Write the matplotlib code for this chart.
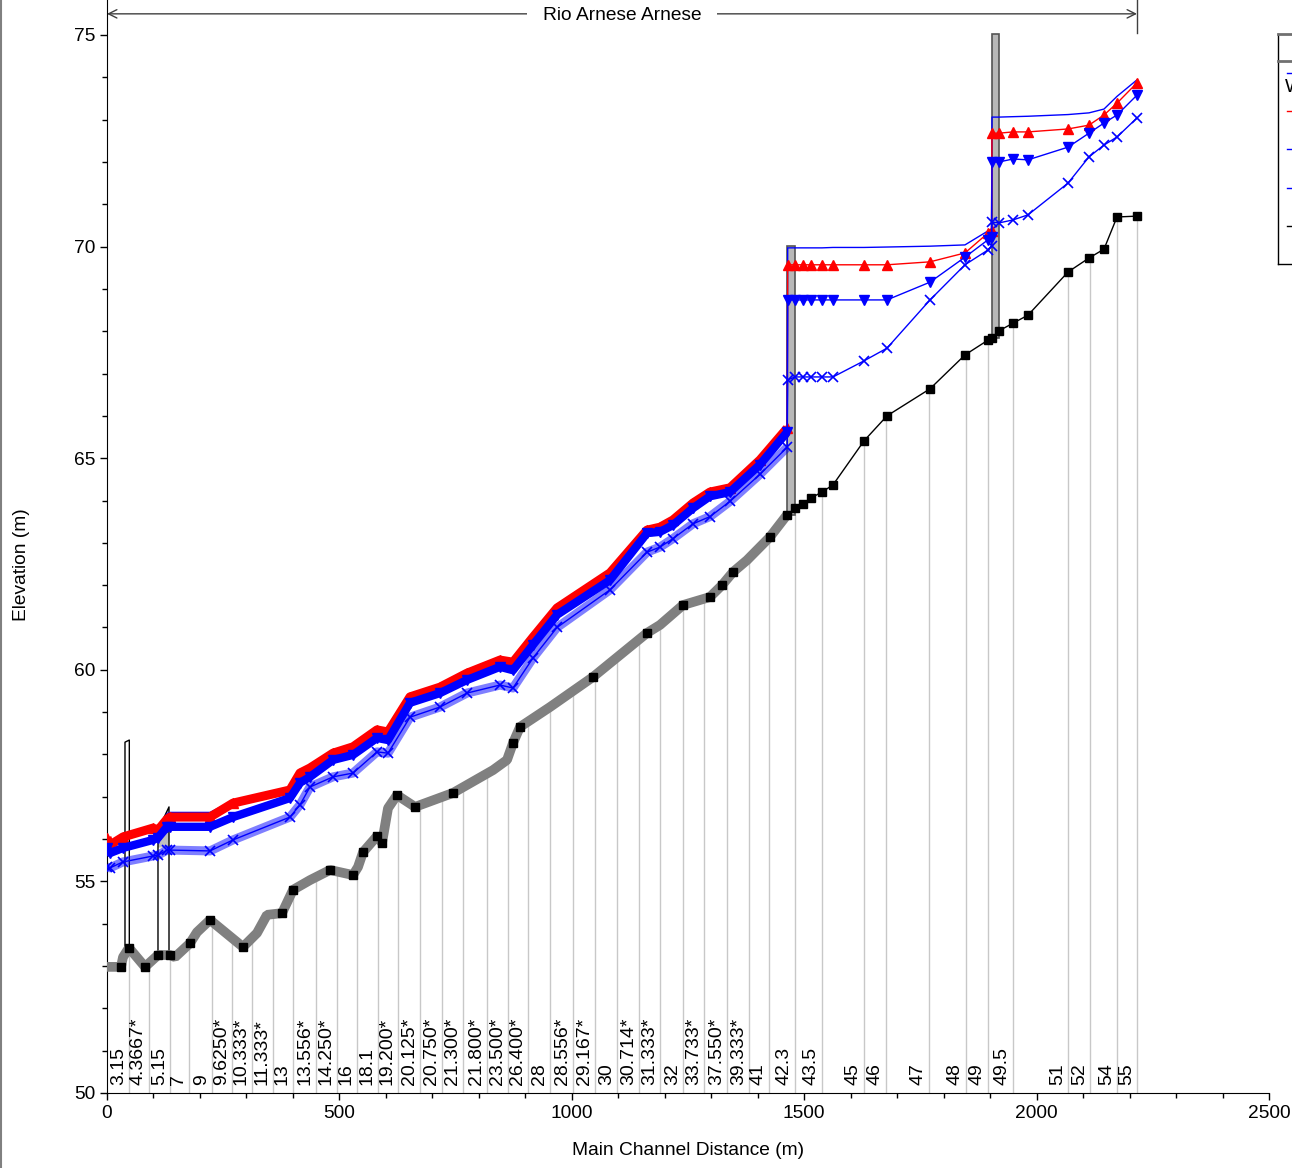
import numpy as np
import matplotlib
matplotlib.use("Agg")
import matplotlib.pyplot as plt
from matplotlib.ticker import MultipleLocator
from matplotlib.patches import Rectangle, Polygon
from matplotlib.lines import Line2D

plt.rcParams['font.family'] = ['Liberation Sans', 'DejaVu Sans']
plt.rcParams['font.size'] = 13.8

# ground profile (main channel distance m, elevation m)
ground_dist = [0, 30.1, 34.4, 47.3, 81.8, 109.7, 135.5, 146.3, 178.6, 193.6, 221.6, 292.6, 322.7, 344.2,
               376.5, 400.2, 436.7, 479.8, 529.3, 540.0, 550.8, 580.9, 591.7, 604.6, 623.9, 662.7, 744.4,
               830.5, 860.6, 873.5, 888.6, 953.1, 1045.6, 1161.8, 1189.8, 1239.2, 1297.3, 1323.2, 1346.8,
               1376.9, 1426.4, 1463.0, 1480.2, 1497.4, 1514.6, 1538.3, 1562.0, 1628.7, 1678.1, 1770.7,
               1845.9, 1895.4, 1904.0, 1919.1, 1949.2, 1981.5, 2067.6, 2112.7, 2145.0, 2173.0, 2216.0]
ground_elev = [52.98, 52.98, 53.21, 53.43, 52.98, 53.26, 53.26, 53.21, 53.54, 53.80, 54.09, 53.45, 53.78, 54.21,
               54.25, 54.80, 55.03, 55.27, 55.15, 55.34, 55.69, 56.07, 55.91, 56.73, 57.04, 56.76, 57.09,
               57.63, 57.87, 58.27, 58.65, 59.12, 59.83, 60.87, 61.06, 61.53, 61.72, 62.00, 62.31,
               62.59, 63.14, 63.66, 63.82, 63.92, 64.06, 64.20, 64.37, 65.41, 66.00, 66.64,
               67.44, 67.79, 67.84, 68.01, 68.19, 68.38, 69.40, 69.73, 69.94, 70.70, 70.72]

# surveyed cross sections (black squares)
xs_dist = [30.1, 47.3, 81.8, 109.7, 135.5, 178.6, 221.6, 292.6, 376.5, 400.2, 479.8, 529.3, 550.8, 580.9,
           591.7, 623.9, 662.7, 744.4, 873.5, 888.6, 1045.6, 1161.8, 1239.2, 1297.3, 1323.2, 1346.8, 1426.4,
           1463.0, 1480.2, 1497.4, 1514.6, 1538.3, 1562.0, 1628.7, 1678.1, 1770.7, 1845.9, 1895.4, 1904.0,
           1919.1, 1949.2, 1981.5, 2067.6, 2112.7, 2145.0, 2173.0, 2216.0]
xs_elev = [52.98, 53.43, 52.98, 53.26, 53.26, 53.54, 54.09, 53.45, 54.25, 54.80, 55.27, 55.15, 55.69, 56.07,
           55.91, 57.04, 56.76, 57.09, 58.27, 58.65, 59.83, 60.87, 61.53, 61.72, 62.00, 62.31, 63.14,
           63.66, 63.82, 63.92, 64.06, 64.20, 64.37, 65.41, 66.00, 66.64, 67.44, 67.79, 67.84,
           68.01, 68.19, 68.38, 69.40, 69.73, 69.94, 70.70, 70.72]

# river station labels
station_labels = ['3.15', '4.3667*', '5.15', '7', '9', '9.6250*', '10.333*', '11.333*', '13', '13.556*',
                  '14.250*', '16', '18.1', '19.200*', '20.125*', '20.750*', '21.300*', '21.800*', '23.500*',
                  '26.400*', '28', '28.556*', '29.167*', '30', '30.714*', '31.333*', '32', '33.733*',
                  '37.550*', '39.333*', '41', '42.3', '43.5', '45', '46', '47', '48', '49', '49.5',
                  '51', '52', '54', '55']
station_dist = [47.3, 90.4, 135.5, 176.4, 225.9, 268.9, 312.0, 357.1, 400.2, 449.7, 494.8, 537.9, 583.0,
                626.1, 673.4, 720.7, 765.9, 817.6, 862.7, 905.8, 953.1, 1002.6, 1049.9, 1097.2, 1144.6,
                1189.8, 1239.2, 1284.4, 1333.9, 1381.2, 1424.3, 1480.2, 1538.3, 1628.7, 1676.0, 1768.5,
                1848.1, 1895.4, 1949.2, 2067.6, 2114.9, 2173.0, 2216.0]

# water profiles
ws_dist = [0, 6.5, 34.4, 99.0, 109.7, 129.1, 135.5, 221.6, 271.1, 393.7, 415.2, 436.7, 486.2, 529.3,
           580.9, 604.6, 651.9, 716.4, 774.5, 845.5, 873.5, 916.5, 968.2, 1082.2, 1161.8, 1189.8,
           1217.7, 1260.8, 1297.3, 1340.4, 1404.9, 1463.5, 1464.5, 1480.2, 1497.4, 1514.6, 1538.3,
           1562.0, 1628.7, 1678.1, 1770.7, 1845.9, 1895.4, 1903.0, 1904.0, 1919.1, 1949.2, 1981.5,
           2067.6, 2112.7, 2145.0, 2173.0, 2216.0]
eg_elev = [56.08, 55.92, 56.10, 56.31, 56.27, 56.60, 56.63, 56.63, 56.91, 57.21, 57.61, 57.73, 58.08, 58.23,
           58.63, 58.58, 59.41, 59.64, 59.97, 60.28, 60.23, 60.82, 61.51, 62.34, 63.35, 63.42,
           63.59, 63.99, 64.25, 64.35, 65.01, 65.76, 69.97, 69.97, 69.97, 69.97, 69.97,
           69.98, 69.98, 69.99, 70.01, 70.04, 70.37, 70.42, 73.06, 73.06, 73.07, 73.08,
           73.12, 73.16, 73.25, 73.55, 73.94]
ws_red = [56.03, 55.86, 56.05, 56.26, 56.21, 56.47, 56.52, 56.52, 56.85, 57.16, 57.56, 57.68, 58.03, 58.18,
          58.58, 58.53, 59.36, 59.59, 59.92, 60.23, 60.18, 60.77, 61.46, 62.29, 63.30, 63.37,
          63.54, 63.94, 64.20, 64.30, 64.96, 65.71, 69.57, 69.57, 69.57, 69.57, 69.57,
          69.57, 69.57, 69.57, 69.64, 69.85, 70.32, 70.36, 72.68, 72.68, 72.71, 72.71,
          72.78, 72.87, 73.11, 73.39, 73.87]
ws_down = [55.79, 55.67, 55.79, 55.98, 56.03, 56.29, 56.29, 56.29, 56.52, 56.97, 57.33, 57.47, 57.87, 57.99,
           58.39, 58.34, 59.22, 59.45, 59.76, 60.07, 59.99, 60.59, 61.30, 62.12, 63.23, 63.26,
           63.42, 63.82, 64.10, 64.20, 64.85, 65.62, 68.74, 68.74, 68.74, 68.74, 68.74,
           68.74, 68.74, 68.74, 69.16, 69.75, 70.16, 70.22, 72.00, 72.00, 72.07, 72.05,
           72.35, 72.68, 72.92, 73.11, 73.58]
ws_x = [55.34, 55.32, 55.46, 55.60, 55.62, 55.74, 55.74, 55.72, 55.98, 56.52, 56.81, 57.23, 57.47, 57.56,
        58.06, 58.03, 58.88, 59.12, 59.45, 59.64, 59.57, 60.28, 61.00, 61.89, 62.78, 62.90,
        63.10, 63.45, 63.62, 63.98, 64.62, 65.26, 66.85, 66.92, 66.92, 66.92, 66.92,
        66.92, 67.30, 67.60, 68.74, 69.57, 69.92, 70.02, 70.58, 70.56, 70.63, 70.75,
        71.50, 72.12, 72.40, 72.59, 73.04]

# bridges (left dist, right dist, bottom, top)
bridges = [(1463.0, 1480.2, 63.66, 70.01), (1904.0, 1919.1, 67.84, 75.02)]
pier_x = [38.7, 48.0]
pier_top = [58.29, 58.34]
pier_bot = [53.2, 53.43]
weir_x = [109.7, 133.4]
weir_top = [56.21, 56.76]
weir_low = [55.8, 55.8]

reach_name = 'Rio Arnese Arnese'
legend_colors = ['#0000ff', '#ff0000', '#0000ff', '#0000ff', 'black']

fig = plt.figure(figsize=(12.92, 11.68), dpi=100)
ax = fig.add_axes([107 / 1292, 75 / 1168, (1269 - 107) / 1292, 1093 / 1168])
ax.set_xlim(0, 2500)
ax.set_ylim(50, 50 + 1093 / 42.32)
for s in ['top', 'right']:
    ax.spines[s].set_visible(False)
ax.set_xticks(np.arange(0, 2501, 500))
ax.set_yticks(np.arange(50, 76, 5))
ax.xaxis.set_minor_locator(MultipleLocator(100))
ax.yaxis.set_minor_locator(MultipleLocator(1))
ax.tick_params(which='major', length=5, width=1, direction='out')
ax.tick_params(which='minor', length=3.5, width=1, direction='out')
ax.set_xlabel('Main Channel Distance (m)')
ax.xaxis.set_label_coords(0.5, -0.045)
ax.set_ylabel('Elevation (m)')
ax.yaxis.set_label_coords(-0.066, 0.483)

gd = np.array(ground_dist)
ge = np.array(ground_elev)
sd = np.array(station_dist)

# station lines and labels
tops = np.interp(sd, gd, ge)
ax.vlines(sd, 50, tops, colors='#c8c8c8', lw=1, zorder=1)
for d, lab in zip(station_dist, station_labels):
    ax.annotate(lab, xy=(d, 50), xytext=(-1.5, 5.5), textcoords='offset points',
                rotation=90, ha='right', va='bottom', fontsize=14)

# structures
for x0, x1, b, t in bridges:
    ax.add_patch(Rectangle((x0, b), x1 - x0, t - b, facecolor='#b8b8b8', edgecolor='#555555', lw=1.2, zorder=2))
ax.plot([pier_x[0], pier_x[0], pier_x[1], pier_x[1]], [pier_bot[0], pier_top[0], pier_top[1], pier_bot[1]],
        color='black', lw=1, zorder=2)
ax.add_patch(Polygon([(weir_x[0], weir_top[0]), (weir_x[1], weir_top[1]), (weir_x[1], weir_low[1]),
                      (weir_x[0], weir_low[0])], closed=True, facecolor='#c0c0c0', edgecolor='none', zorder=2))
ax.plot([weir_x[0], weir_x[0], weir_x[1], weir_x[1]], [53.26, weir_top[0], weir_top[1], 53.26],
        color='black', lw=1, zorder=2)

# ground
dense = gd <= 1463.0
ax.plot(gd, ge, color='black', lw=1, zorder=3)
ax.plot(gd[dense], ge[dense], color='#808080', lw=7, solid_capstyle='butt', solid_joinstyle='bevel', zorder=3.2)
ax.plot(xs_dist, xs_elev, 's', color='black', ms=5.5, zorder=3.5)

# water surfaces
wd = np.array(ws_dist)
wdense = wd <= 1463.5
ax.plot(ws_dist, eg_elev, color='#0000ff', lw=1, zorder=5)
ax.plot(wd[wdense], np.array(ws_red)[wdense], color='#ff0000', lw=6.5, solid_capstyle='butt', zorder=6)
ax.plot(ws_dist, ws_red, color='#ff0000', lw=1, marker='^', ms=6.5, zorder=6)
ax.plot(wd[wdense], np.array(ws_down)[wdense], color='#0000ff', lw=6, solid_capstyle='butt', zorder=7)
ax.plot(ws_dist, ws_down, color='#0000ff', lw=1, marker='v', ms=6.5, zorder=7)
ax.plot(wd[wdense], np.array(ws_x)[wdense], color='#0000ff', lw=6.5, alpha=0.5, solid_capstyle='butt', zorder=8)
ax.plot(ws_dist, ws_x, color='#0000ff', lw=1, marker='x', ms=6.5, mew=1.2, zorder=8)

# reach arrow
ax.annotate('', xy=(0, 75.5), xytext=(2216, 75.5), annotation_clip=False,
            arrowprops=dict(arrowstyle='<->', color='#404040', lw=1, shrinkA=0, shrinkB=0, mutation_scale=15))
ax.plot([2216, 2216], [75.05, 75.83], color='#404040', lw=1, clip_on=False)
ax.text(1108, 75.47, reach_name, ha='center', va='center', fontsize=13.8,
        bbox=dict(facecolor='white', edgecolor='none', pad=11))

# legend box (partly outside the figure)
def fx(px):
    return px / 1292

def fy(py):
    return 1 - py / 1168

fig.add_artist(Line2D([fx(1278), fx(1278)], [fy(34), fy(264)], color='black', lw=1))
fig.add_artist(Line2D([fx(1278), 1.0], [fy(34), fy(34)], color='#707070', lw=2))
fig.add_artist(Line2D([fx(1278), 1.0], [fy(61), fy(61)], color='#707070', lw=2))
fig.add_artist(Line2D([fx(1278), 1.0], [fy(264), fy(264)], color='black', lw=1))
for c, py in zip(legend_colors, [73, 111, 149, 188, 226]):
    fig.add_artist(Line2D([fx(1287), fx(1300)], [fy(py), fy(py)], color=c, lw=1))
fig.text(fx(1285), fy(88), 'WS PF 1', ha='left', va='center', fontsize=13.8)

# window edge
fig.add_artist(Line2D([0.0006, 0.0006], [0, 1], color='#808080', lw=1.5))

fig.savefig('out.png', dpi=100)
